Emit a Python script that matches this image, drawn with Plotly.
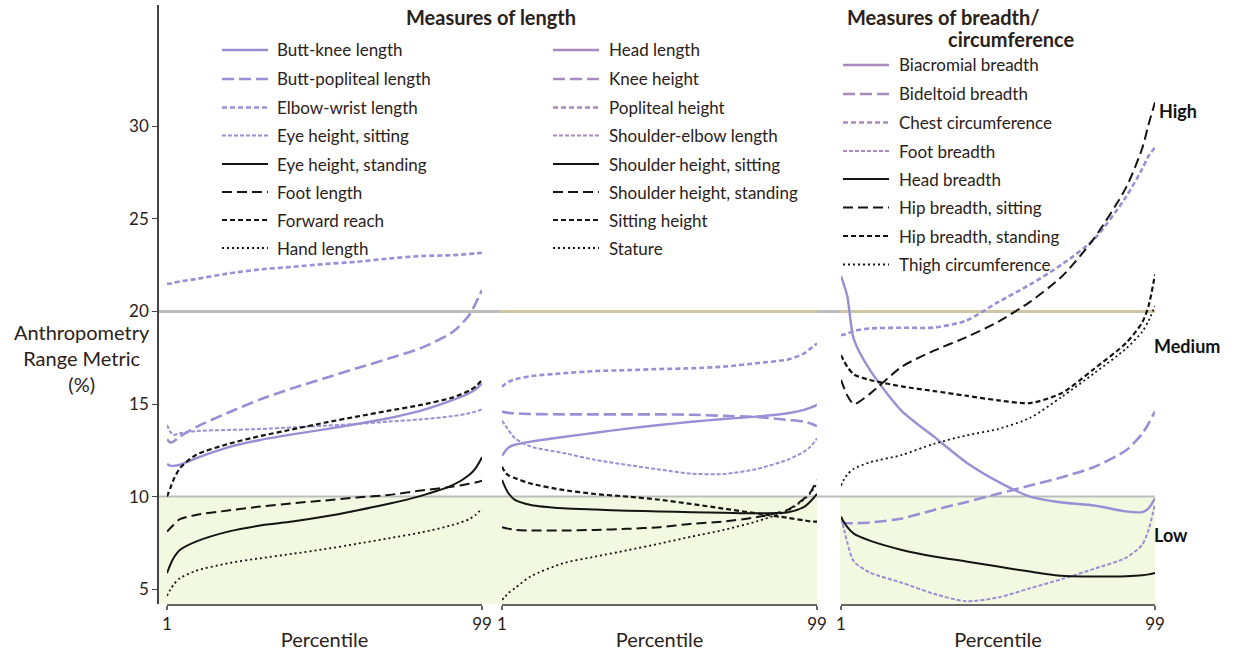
import plotly.graph_objects as go

W, H = 1234, 651

# ---------------- data ----------------
percentiles = [1, 2, 3, 5, 10, 20, 30, 40, 50, 60, 70, 80, 90, 95, 97, 99]

# Measures of length (panel 1)
butt_knee = [11.76, 11.67, 11.66, 11.72, 12.07, 12.66, 13.06, 13.36, 13.63, 13.92, 14.23, 14.64, 15.22, 15.58, 15.79, 16.12]
butt_popliteal = [13.1, 12.93, 12.97, 13.24, 13.75, 14.53, 15.25, 15.85, 16.39, 16.93, 17.46, 18.02, 18.9, 19.8, 20.43, 21.15]
elbow_wrist = [21.51, 21.5, 21.55, 21.62, 21.75, 22.05, 22.27, 22.41, 22.56, 22.68, 22.86, 22.99, 23.04, 23.1, 23.14, 23.17]
eye_sitting = [13.87, 13.51, 13.33, 13.42, 13.54, 13.6, 13.65, 13.74, 13.83, 13.92, 14.05, 14.17, 14.35, 14.5, 14.59, 14.71]
eye_standing = [5.86, 6.31, 6.67, 7.12, 7.57, 8.11, 8.44, 8.65, 8.92, 9.25, 9.61, 10.04, 10.63, 11.17, 11.53, 12.12]
foot_length = [8.11, 8.29, 8.47, 8.78, 9.01, 9.25, 9.46, 9.64, 9.79, 9.95, 10.09, 10.33, 10.54, 10.69, 10.76, 10.86]
forward_reach = [10.0, 10.45, 10.9, 11.53, 12.25, 12.84, 13.27, 13.63, 13.99, 14.32, 14.64, 14.95, 15.36, 15.72, 15.94, 16.3]
hand_length = [4.64, 4.97, 5.23, 5.59, 5.99, 6.4, 6.67, 6.91, 7.16, 7.45, 7.75, 8.06, 8.47, 8.78, 9.01, 9.37]

# Measures of length (panel 2)
head_length = [12.2, 12.45, 12.65, 12.8, 12.97, 13.22, 13.45, 13.67, 13.87, 14.04, 14.19, 14.32, 14.5, 14.68, 14.8, 14.95]
knee_height = [14.59, 14.55, 14.52, 14.5, 14.46, 14.44, 14.44, 14.44, 14.44, 14.42, 14.36, 14.3, 14.14, 14.05, 13.95, 13.81]
popliteal_height = [15.93, 16.08, 16.2, 16.33, 16.51, 16.66, 16.78, 16.83, 16.89, 16.93, 17.02, 17.2, 17.41, 17.73, 18.0, 18.27]
shoulder_elbow = [14.1, 13.85, 13.6, 13.15, 12.7, 12.36, 11.98, 11.71, 11.46, 11.24, 11.22, 11.48, 12.0, 12.43, 12.7, 13.15]
shoulder_sitting = [10.9, 10.5, 10.18, 9.82, 9.55, 9.37, 9.3, 9.24, 9.2, 9.16, 9.13, 9.1, 9.15, 9.45, 9.75, 10.15]
shoulder_standing = [8.35, 8.3, 8.27, 8.2, 8.17, 8.17, 8.2, 8.26, 8.35, 8.53, 8.66, 8.88, 9.3, 9.9, 10.25, 10.9]
sitting_height = [11.62, 11.3, 11.15, 11.0, 10.7, 10.36, 10.14, 10.0, 9.83, 9.6, 9.35, 9.1, 8.85, 8.72, 8.66, 8.65]
stature = [4.42, 4.6, 4.8, 5.05, 5.7, 6.4, 6.76, 7.1, 7.46, 7.84, 8.2, 8.65, 9.25, 9.85, 10.2, 10.72]

# Measures of breadth / circumference (panel 3)
biacromial = [21.9, 21.4, 20.8, 18.5, 16.84, 14.62, 13.24, 11.86, 10.81, 10.0, 9.68, 9.52, 9.2, 9.16, 9.37, 9.91]
bideltoid = [8.65, 8.58, 8.56, 8.56, 8.6, 8.82, 9.28, 9.7, 10.15, 10.6, 11.05, 11.6, 12.5, 13.4, 13.95, 14.6]
chest_circ = [18.72, 18.75, 18.8, 18.95, 19.08, 19.12, 19.13, 19.5, 20.5, 21.45, 22.55, 23.9, 26.2, 27.7, 28.4, 28.85]
foot_breadth = [8.85, 8.2, 7.5, 6.5, 5.9, 5.35, 4.75, 4.35, 4.55, 5.05, 5.55, 6.1, 6.7, 7.4, 8.2, 9.6]
head_breadth = [8.92, 8.6, 8.35, 8.0, 7.62, 7.12, 6.77, 6.5, 6.22, 5.95, 5.72, 5.68, 5.7, 5.75, 5.8, 5.88]
hip_sitting = [16.3, 15.85, 15.45, 15.0, 15.55, 17.02, 17.88, 18.6, 19.44, 20.52, 21.9, 23.95, 26.7, 28.8, 30.1, 31.3]
hip_standing = [17.64, 17.3, 17.0, 16.6, 16.3, 15.95, 15.7, 15.45, 15.2, 15.05, 15.6, 16.9, 18.3, 19.4, 20.3, 22.0]
thigh_circ = [10.6, 10.95, 11.2, 11.5, 11.85, 12.25, 12.85, 13.3, 13.65, 14.25, 15.4, 16.66, 18.0, 18.9, 19.5, 20.3]

names_length_a = ["Butt-knee length", "Butt-popliteal length", "Elbow-wrist length", "Eye height, sitting",
                  "Eye height, standing", "Foot length", "Forward reach", "Hand length"]
names_length_b = ["Head length", "Knee height", "Popliteal height", "Shoulder-elbow length",
                  "Shoulder height, sitting", "Shoulder height, standing", "Sitting height", "Stature"]
names_breadth = ["Biacromial breadth", "Bideltoid breadth", "Chest circumference", "Foot breadth",
                 "Head breadth", "Hip breadth, sitting", "Hip breadth, standing", "Thigh circumference"]

values_panel1 = [butt_knee, butt_popliteal, elbow_wrist, eye_sitting, eye_standing, foot_length, forward_reach, hand_length]
values_panel2 = [head_length, knee_height, popliteal_height, shoulder_elbow, shoulder_sitting, shoulder_standing, sitting_height, stature]
values_panel3 = [biacromial, bideltoid, chest_circ, foot_breadth, head_breadth, hip_sitting, hip_standing, thigh_circ]

x_ticks = [1, 99]
y_ticks = [5, 10, 15, 20, 25, 30]

# ---------------- styles ----------------
PURPLE = "#9a8ed4"
MAUVE = "#a68bbc"
BLACK = "#161412"
TEXT = "#2a2119"
FONT = "Lato"

styles = [
    (PURPLE, "solid", 2.4),
    (PURPLE, "12px,5px", 2.6),
    (PURPLE, "5px,3px", 2.6),
    (PURPLE, "4px,2px", 2.0),
    (BLACK, "solid", 2.0),
    (BLACK, "10px,5px", 2.0),
    (BLACK, "5px,3px", 2.2),
    (BLACK, "2px,3px", 1.8),
]

fig = go.Figure()

panels = [("x", values_panel1, names_length_a), ("x2", values_panel2, names_length_b), ("x3", values_panel3, names_breadth)]
for xa, vals, names in panels:
    for (color, dash, width), v, nm in zip(styles, vals, names):
        fig.add_trace(go.Scatter(
            x=percentiles, y=v, mode="lines", name=nm, xaxis=xa, yaxis="y",
            line=dict(color=color, dash=dash, width=width, shape="spline", smoothing=0.7),
            showlegend=False, hoverinfo="x+y+name"))

def px(x):
    return x / W

def py(y):
    return 1 - y / H

YMIN, YMAX = 4.2, 36.55

shapes = []
# low band shading
for x0, x1 in [(158, 817), (840, 1155)]:
    shapes.append(dict(type="rect", xref="paper", yref="y", x0=px(x0), x1=px(x1), y0=YMIN, y1=10,
                       fillcolor="#f3f8e1", line=dict(width=0), layer="below"))
# threshold lines
shapes.append(dict(type="line", xref="paper", yref="y", x0=px(158), x1=px(1155), y0=20, y1=20,
                   line=dict(color="#bcbcbc", width=3), layer="below"))
for x0, x1 in [(500, 817), (840, 1155)]:
    shapes.append(dict(type="line", xref="paper", yref="y", x0=px(x0), x1=px(x1), y0=20, y1=20,
                       line=dict(color="#d0c6a6", width=3), layer="below"))
shapes.append(dict(type="line", xref="paper", yref="y", x0=px(158), x1=px(1155), y0=10, y1=10,
                   line=dict(color="#bdbdbd", width=2), layer="below"))

annotations = []
# legends
legend_cols = [
    (names_length_a, 222, 268, 275, [50, 79, 107.5, 135.5, 164, 192, 220, 248], PURPLE),
    (names_length_b, 553, 599, 607, [50, 79, 107.5, 135.5, 164, 192, 220, 248], MAUVE),
    (names_breadth, 843, 889, 897, [65, 94, 122.5, 151, 179, 207.5, 236, 264.5], MAUVE),
]
for names, lx0, lx1, tx, rows, pc in legend_cols:
    for i, (nm, ry) in enumerate(zip(names, rows)):
        color, dash, width = styles[i]
        if color == PURPLE:
            color = pc
        shapes.append(dict(type="line", xref="paper", yref="paper", x0=px(lx0), x1=px(lx1),
                           y0=py(ry), y1=py(ry), line=dict(color=color, dash=dash, width=width)))
        annotations.append(dict(text=nm, xref="paper", yref="paper", x=px(tx), y=py(ry),
                                xanchor="left", yanchor="middle", showarrow=False,
                                font=dict(family=FONT, size=17, color=TEXT)))

annotations += [
    dict(text="<b>Measures of length</b>", xref="paper", yref="paper", x=px(491), y=py(17),
         xanchor="center", yanchor="middle", showarrow=False, font=dict(family=FONT, size=20, color=TEXT)),
    dict(text="<b>Measures of breadth/</b>", xref="paper", yref="paper", x=px(845), y=py(17),
         xanchor="left", yanchor="middle", showarrow=False, font=dict(family=FONT, size=20, color=TEXT)),
    dict(text="<b>circumference</b>", xref="paper", yref="paper", x=px(1077), y=py(39),
         xanchor="right", yanchor="middle", showarrow=False, font=dict(family=FONT, size=20, color=TEXT)),
    dict(text="Anthropometry<br>Range Metric<br>(%)", xref="paper", yref="paper", x=px(82), y=py(358),
         xanchor="center", yanchor="middle", showarrow=False, align="center",
         font=dict(family=FONT, size=20, color=TEXT)),
    dict(text="<b>High</b>", xref="paper", yref="y", x=px(1157), y=30.8, xanchor="left", yanchor="middle",
         showarrow=False, font=dict(family=FONT, size=18, color="#111")),
    dict(text="<b>Medium</b>", xref="paper", yref="y", x=px(1152), y=18.15, xanchor="left", yanchor="middle",
         showarrow=False, font=dict(family=FONT, size=18, color="#111")),
    dict(text="<b>Low</b>", xref="paper", yref="y", x=px(1152), y=7.95, xanchor="left", yanchor="middle",
         showarrow=False, font=dict(family=FONT, size=18, color="#111")),
]

ydom = [py(604), py(5)]

def xaxis(d0, d1):
    return dict(domain=[px(d0), px(d1)], range=[1, 99], anchor="y", tickvals=x_ticks,
                ticktext=[str(t) for t in x_ticks], ticks="outside", ticklen=4, tickcolor="#666",
                tickwidth=1.5, showline=True, linecolor="#666", linewidth=2, showgrid=False,
                zeroline=False, automargin=False, tickfont=dict(family=FONT, size=17, color=TEXT),
                title=dict(text="Percentile", font=dict(family=FONT, size=20, color=TEXT), standoff=0))

fig.update_layout(
    width=W, height=H, autosize=False,
    margin=dict(l=0, r=0, t=0, b=0),
    paper_bgcolor="white", plot_bgcolor="rgba(0,0,0,0)",
    xaxis=xaxis(167, 482), xaxis2=xaxis(502, 817), xaxis3=xaxis(841, 1155),
    yaxis=dict(domain=ydom, range=[YMIN, YMAX], anchor="free", position=px(158), tickvals=y_ticks,
               ticks="outside", ticklen=5, tickcolor="#444", showline=True, linecolor="#444",
               linewidth=1.5, showgrid=False, zeroline=False, automargin=False,
               tickfont=dict(family=FONT, size=17, color=TEXT)),
    shapes=shapes, annotations=annotations, showlegend=False,
)

fig.write_html("out.html", config={"displayModeBar": False},
               post_script="document.body.style.margin='0';")
